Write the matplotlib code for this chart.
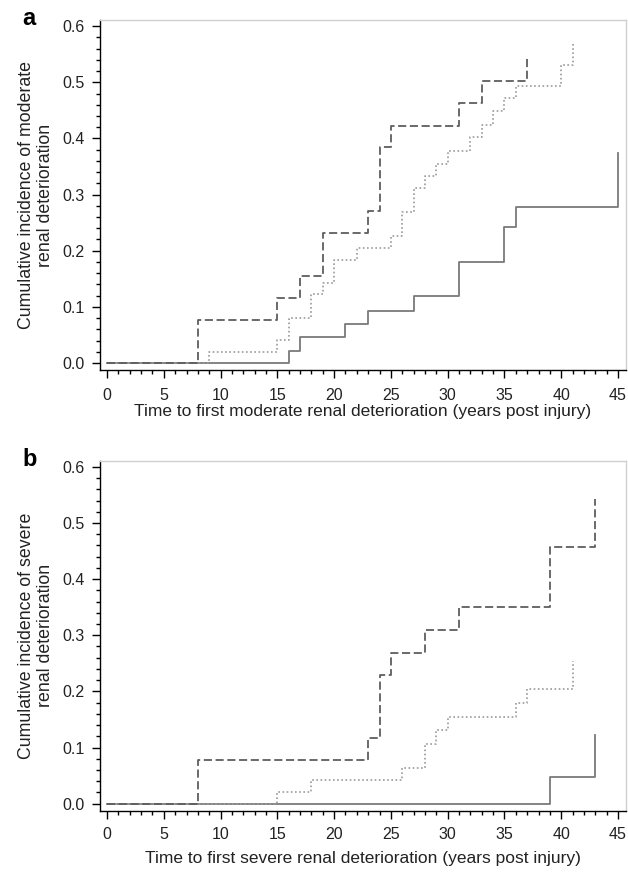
#!/usr/bin/env python3

import matplotlib
matplotlib.use('Agg')
import matplotlib.pyplot as plt
from matplotlib.ticker import MultipleLocator

plt.rcParams['font.family'] = ['Liberation Sans', 'DejaVu Sans']
plt.rcParams['font.size'] = 11.5

# panel a: moderate renal deterioration (event times, cumulative incidence)
a_dash_t = [0, 8, 15, 17, 19, 23, 24, 25, 31, 33, 37]
a_dash_y = [0, 0.077, 0.115, 0.155, 0.232, 0.271, 0.384, 0.423, 0.463, 0.503, 0.543]
a_dot_t = [0, 9, 15, 16, 18, 19, 20, 22, 25, 26, 27, 28, 29, 30, 32, 33, 34, 35, 36, 40, 41]
a_dot_y = [0, 0.020, 0.041, 0.081, 0.122, 0.143, 0.184, 0.205, 0.227, 0.269, 0.311,
           0.333, 0.355, 0.378, 0.403, 0.424, 0.449, 0.472, 0.494, 0.530, 0.571]
a_solid_t = [0, 16, 17, 21, 23, 27, 31, 35, 36, 45]
a_solid_y = [0, 0.022, 0.047, 0.070, 0.093, 0.120, 0.180, 0.242, 0.278, 0.374]

# panel b: severe renal deterioration
b_dash_t = [0, 8, 23, 24, 25, 28, 31, 39, 43]
b_dash_y = [0, 0.078, 0.117, 0.230, 0.269, 0.309, 0.351, 0.458, 0.542]
b_dot_t = [0, 15, 18, 26, 28, 29, 30, 36, 37, 41]
b_dot_y = [0, 0.021, 0.042, 0.064, 0.107, 0.131, 0.154, 0.179, 0.204, 0.254]
b_solid_t = [0, 39, 43]
b_solid_y = [0, 0.048, 0.122]

x_ticks = list(range(0, 50, 5))
y_ticks = [0.0, 0.1, 0.2, 0.3, 0.4, 0.5, 0.6]

panels = [
  ('Cumulative incidence of moderate\nrenal deterioration',
   'Time to first moderate renal deterioration (years post injury)',
   (a_dash_t, a_dash_y), (a_dot_t, a_dot_y), (a_solid_t, a_solid_y), 7, 0.5),
  ('Cumulative incidence of severe\nrenal deterioration',
   'Time to first severe renal deterioration (years post injury)',
   (b_dash_t, b_dash_y), (b_dot_t, b_dot_y), (b_solid_t, b_solid_y), 6, 6),
]


def draw(axes, ylabel, xlabel, dash, dot, solid, xpad, xlabelpad):
  axes.step(solid[0], solid[1], where='post', color='#7a7a7a', lw=1.3)
  axes.step(dot[0], dot[1], where='post', color='#9a9a9a', lw=1.2,
            linestyle=(0, (1, 1.5)))
  axes.step(dash[0], dash[1], where='post', color='#5e5e5e', lw=1.3,
            linestyle=(0, (4.5, 2)))

  axes.set_xlim(-0.62, 45.7)
  axes.set_ylim(-0.0125, 0.611)
  axes.set_xticks(x_ticks)
  axes.set_yticks(y_ticks)
  axes.set_yticklabels(['%.1f' % v for v in y_ticks])
  axes.xaxis.set_minor_locator(MultipleLocator(1))
  axes.yaxis.set_minor_locator(MultipleLocator(0.02))
  axes.tick_params(which='major', direction='out', length=6, width=1,
                   colors='black', labelcolor='#222222')
  axes.tick_params(which='minor', direction='out', length=3, width=1)
  axes.tick_params(axis='x', which='major', pad=xpad)
  axes.tick_params(axis='y', which='major', pad=5)

  for side in ('top', 'right'):
    axes.spines[side].set_color('#d0d0d0')
    axes.spines[side].set_linewidth(1)
  for side in ('left', 'bottom'):
    axes.spines[side].set_color('black')
    axes.spines[side].set_linewidth(1)

  axes.set_ylabel(ylabel, color='#222222', labelpad=6, linespacing=1.15,
                  fontsize=12.8)
  axes.set_xlabel(xlabel, color='#222222', labelpad=xlabelpad, fontsize=12.5)


figure = plt.figure(figsize=(6.28, 8.72), dpi=100)
ax_a = figure.add_axes([0.1592, 0.5757, 0.8376, 0.4014])
ax_b = figure.add_axes([0.1592, 0.0703, 0.8376, 0.4014])

for axes, panel in zip([ax_a, ax_b], panels):
  draw(axes, *panel)

# panel letters, baselines level with the top of each frame
figure.text(22 / 628, 1 - 25 / 872, 'a', fontsize=17, fontweight='bold',
            ha='left', va='baseline')
figure.text(22 / 628, 1 - 466 / 872, 'b', fontsize=17, fontweight='bold',
            ha='left', va='baseline')

figure.patch.set_facecolor('white')
plt.savefig('out.png', dpi=100)
